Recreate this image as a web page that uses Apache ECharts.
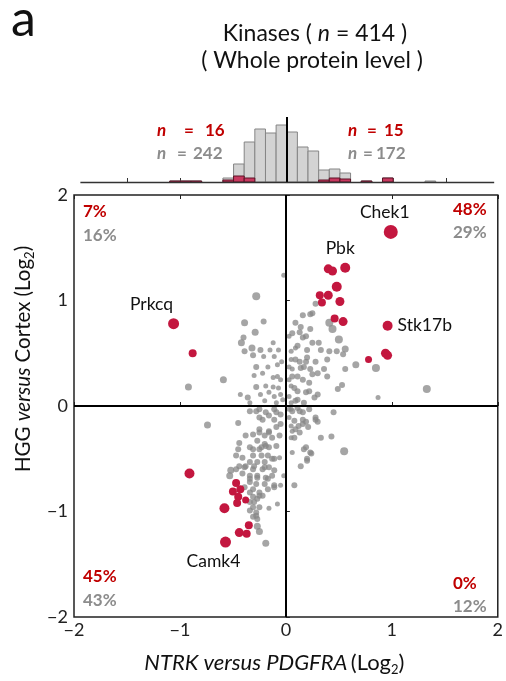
<!DOCTYPE html>
<html>
<head>
<meta charset="utf-8">
<script src="https://cdn.jsdelivr.net/npm/echarts@6/dist/echarts.min.js"></script>
<style>
  html, body { margin: 0; padding: 0; background: #fff; }
  #chart { width: 506px; height: 681px; }
</style>
</head>
<body>
<div id="chart"></div>
<script>
// ---- data -------------------------------------------------------------
// Kinases with significant change: [log2 NTRK/PDGFRA, log2 HGG/Cortex, marker size]
const redPoints = [
  [0.99, 1.65, 14], [0.40, 1.30, 9], [0.44, 1.28, 9], [0.56, 1.31, 10],
  [0.48, 1.13, 10], [0.32, 1.05, 8], [0.40, 1.05, 9], [0.34, 0.98, 8],
  [0.51, 0.99, 9], [0.46, 0.83, 8], [0.54, 0.80, 9], [0.96, 0.76, 10],
  [0.94, 0.50, 9], [0.96, 0.48, 9], [0.78, 0.44, 7],
  [-1.06, 0.78, 11], [-0.88, 0.50, 8],
  [-0.91, -0.64, 10], [-0.47, -0.73, 8], [-0.50, -0.81, 8], [-0.43, -0.79, 8],
  [-0.45, -0.86, 8], [-0.38, -0.89, 7], [-0.46, -0.92, 8], [-0.58, -0.97, 10],
  [-0.35, -1.13, 8], [-0.44, -1.20, 9], [-0.37, -1.21, 8], [-0.57, -1.29, 11]
];
const redNames = [
  'Chek1', '', '', 'Pbk', '', '', '', '', '', '', '', 'Stk17b', '', '', '',
  'Prkcq', '', '', '', '', '', '', '', '', '', '', '', '', 'Camk4'
];

// All other kinases: [x, y, marker size]
const grayPoints = [
  // upper left
  [-0.28, 1.04, 7], [-0.39, 0.79, 6], [-0.21, 0.80, 5], [-0.29, 0.70, 6], [-0.42, 0.60, 6],
  [-0.40, 0.65, 5], [-0.32, 0.55, 6], [-0.39, 0.52, 5], [-0.24, 0.53, 5], [-0.12, 0.60, 4],
  [-0.15, 0.53, 4], [-0.07, 0.53, 4], [-0.31, 0.48, 5], [-0.21, 0.47, 4], [-0.11, 0.47, 4],
  [-0.28, 0.37, 5], [-0.17, 0.37, 4], [-0.08, 0.39, 4], [-0.04, 0.42, 4], [-0.59, 0.25, 6],
  [-0.92, 0.18, 6], [-0.30, 0.29, 4], [-0.22, 0.31, 4], [-0.12, 0.27, 4], [-0.08, 0.28, 4],
  [-0.05, 0.25, 4], [-0.28, 0.18, 5], [-0.19, 0.19, 4], [-0.12, 0.18, 4], [-0.07, 0.17, 4],
  [-0.43, 0.11, 4], [-0.36, 0.08, 5], [-0.24, 0.11, 4], [-0.16, 0.13, 4], [-0.11, 0.09, 4],
  [-0.05, 0.11, 4], [-0.34, 0.03, 4], [-0.20, 0.05, 4], [-0.09, 0.03, 4], [-0.03, 0.06, 4],
  [-0.02, 1.24, 4],
  // upper right
  [0.09, 0.79, 5], [0.14, 0.75, 5], [0.06, 0.69, 5], [0.16, 0.65, 5], [0.11, 0.57, 5],
  [0.20, 0.53, 5], [0.05, 0.52, 4], [0.09, 0.44, 5], [0.19, 0.42, 5], [0.03, 0.37, 4],
  [0.14, 0.36, 5], [0.23, 0.35, 5], [0.06, 0.28, 5], [0.16, 0.25, 5], [0.22, 0.22, 5],
  [0.05, 0.19, 4], [0.11, 0.14, 5], [0.19, 0.13, 5], [0.03, 0.09, 4], [0.09, 0.05, 5],
  [0.17, 0.03, 5], [0.25, 0.88, 5], [0.28, 0.97, 5], [0.23, 0.87, 5], [0.16, 0.86, 5],
  [0.41, 0.79, 7], [0.44, 0.73, 7], [0.23, 0.73, 5], [0.13, 0.70, 5], [0.03, 0.66, 4],
  [0.19, 0.66, 5], [0.50, 0.63, 7], [0.25, 0.60, 5], [0.31, 0.60, 5], [0.09, 0.55, 4],
  [0.33, 0.53, 5], [0.41, 0.52, 5], [0.48, 0.52, 5], [0.56, 0.54, 6], [0.54, 0.49, 5],
  [0.39, 0.44, 5], [0.05, 0.44, 4], [0.13, 0.42, 5], [0.20, 0.46, 5], [0.28, 0.42, 5],
  [0.66, 0.39, 6], [0.56, 0.35, 5], [0.85, 0.36, 7], [0.36, 0.35, 5], [0.17, 0.37, 5],
  [0.06, 0.35, 4], [0.25, 0.30, 5], [0.30, 0.31, 5], [0.39, 0.28, 5], [0.11, 0.28, 5],
  [0.03, 0.25, 4], [0.53, 0.20, 5], [0.49, 0.16, 5], [0.08, 0.17, 5], [0.22, 0.14, 5],
  [0.30, 0.11, 5], [0.27, 0.08, 5], [1.33, 0.16, 7], [0.87, 0.08, 4], [0.11, 0.06, 5],
  [0.05, 0.03, 4],
  // lower left
  [-0.28, -0.05, 5], [-0.19, -0.06, 5], [-0.09, -0.06, 5], [-0.34, -0.05, 5], [-0.74, -0.18, 6],
  [-0.45, -0.16, 5], [-0.25, -0.11, 5], [-0.11, -0.13, 5], [-0.05, -0.08, 5], [-0.38, -0.28, 5],
  [-0.31, -0.27, 5], [-0.25, -0.22, 5], [-0.20, -0.28, 5], [-0.16, -0.24, 5], [-0.09, -0.20, 5],
  [-0.05, -0.17, 5], [-0.13, -0.30, 5], [-0.06, -0.28, 5], [-0.44, -0.35, 5], [-0.27, -0.33, 5],
  [-0.20, -0.36, 5], [-0.45, -0.41, 5], [-0.34, -0.39, 5], [-0.23, -0.39, 5], [-0.16, -0.39, 5],
  [-0.09, -0.38, 5], [-0.47, -0.47, 5], [-0.41, -0.49, 5], [-0.31, -0.47, 5], [-0.23, -0.47, 5],
  [-0.17, -0.47, 5], [-0.11, -0.50, 5], [-0.34, -0.53, 5], [-0.27, -0.53, 5], [-0.20, -0.53, 5],
  [-0.44, -0.57, 5], [-0.38, -0.57, 5], [-0.52, -0.61, 6], [-0.47, -0.60, 5], [-0.31, -0.60, 5],
  [-0.22, -0.60, 5], [-0.16, -0.58, 5], [-0.11, -0.61, 5], [-0.53, -0.66, 6], [-0.41, -0.64, 5],
  [-0.34, -0.66, 5], [-0.27, -0.66, 5], [-0.19, -0.68, 5], [-0.13, -0.66, 5], [-0.34, -0.72, 5],
  [-0.28, -0.74, 5], [-0.20, -0.74, 5], [-0.11, -0.75, 5], [-0.05, -0.75, 4], [-0.39, -0.77, 5],
  [-0.31, -0.79, 5], [-0.34, -0.82, 5], [-0.25, -0.82, 5], [-0.17, -0.79, 5], [-0.31, -0.86, 5],
  [-0.27, -0.88, 5], [-0.34, -0.91, 5], [-0.22, -0.85, 5], [-0.08, -0.93, 4], [-0.31, -0.96, 5],
  [-0.25, -0.96, 5], [-0.28, -1.01, 5], [-0.34, -0.99, 5], [-0.27, -1.07, 5], [-0.31, -1.05, 5],
  [-0.16, -0.97, 4], [-0.27, -1.14, 6], [-0.25, -1.19, 6], [-0.19, -1.30, 6], [-0.02, -0.66, 4],
  [-0.25, -0.03, 5], [-0.16, -0.09, 5], [-0.11, -0.03, 5], [-0.22, -0.13, 5], [-0.25, -0.25, 5],
  [-0.16, -0.25, 5], [-0.31, -0.41, 5], [-0.25, -0.41, 5], [-0.19, -0.38, 5], [-0.39, -0.58, 5],
  [-0.30, -0.57, 5], [-0.20, -0.58, 5], [-0.13, -0.50, 5], [-0.06, -0.49, 4], [-0.34, -0.69, 5],
  [-0.27, -0.68, 5], [-0.17, -0.69, 5], [-0.11, -0.77, 5], [-0.25, -0.85, 5], [-0.30, -0.91, 5],
  [-0.28, -1.04, 5],
  // lower right
  [0.06, -0.05, 5], [0.16, -0.06, 5], [0.08, -0.75, 5], [0.19, -0.39, 5], [0.14, -0.57, 5],
  [0.06, -0.44, 4], [0.23, -0.44, 5], [0.20, -0.50, 5], [0.05, -0.30, 4], [0.09, -0.22, 5],
  [0.16, -0.17, 5], [0.03, -0.11, 4], [0.22, -0.03, 5], [0.45, -0.06, 5], [0.28, -0.13, 5],
  [0.30, -0.15, 5], [0.16, -0.13, 5], [0.19, -0.15, 5], [0.08, -0.14, 5], [0.05, -0.19, 4],
  [0.21, -0.20, 5], [0.13, -0.25, 5], [0.08, -0.30, 5], [0.33, -0.30, 5], [0.43, -0.29, 5],
  [0.55, -0.43, 7], [0.17, -0.41, 5], [0.24, -0.45, 5], [0.20, -0.52, 5], [0.03, -0.03, 4],
  [0.11, -0.02, 5], [0.28, -0.11, 5], [0.13, -0.05, 5], [0.06, -0.24, 4], [0.12, -0.19, 5],
  [0.05, -0.03, 4]
];

// Histogram of log2 NTRK/PDGFRA (bin start, counts)
const binWidth = 0.1;
const binStart = [-1.1, -1.0, -0.9, -0.6, -0.5, -0.4, -0.3, -0.2, -0.1, 0.0, 0.1, 0.2, 0.3, 0.4, 0.5, 0.7, 0.9, 1.3];
const binAll   = [1, 1, 1, 4, 18, 40, 53, 49, 57, 50, 35, 31, 12, 13, 9, 1, 4, 1];
const binSig   = [1, 1, 1, 2, 6, 4, 0, 0, 0, 0, 0, 0, 2, 4, 3, 1, 4, 0];

// Counts and quadrant shares
const nSigLeft = 16, nSigRight = 15, nAllLeft = 242, nAllRight = 172;
const quadSig = { ul: '7%', ur: '48%', ll: '45%', lr: '0%' };
const quadAll = { ul: '16%', ur: '29%', ll: '43%', lr: '12%' };

// ---- styling ----------------------------------------------------------
const FONT = 'Lato, "Open Sans", sans-serif';
const RED = '#c3173f';
const RED_TXT = '#c00000';
const GRAY_TXT = '#8c8c8c';
const fmt = v => (v < 0 ? '\u2212' : '') + Math.abs(v);

const labelPlacement = {
  Chek1:  { position: 'top', offset: [-6, 1] },
  Pbk:    { position: 'top', offset: [-5, 0] },
  Stk17b: { position: 'right', distance: 5 },
  Prkcq:  { position: 'top', offset: [-22, 0] },
  Camk4:  { position: 'bottom', offset: [-12, 0] }
};

const redData = redPoints.map((p, i) => {
  const item = { value: p, name: redNames[i] };
  if (redNames[i]) {
    item.label = Object.assign({ show: true, formatter: '{b}' }, labelPlacement[redNames[i]]);
  }
  return item;
});

function histBar(fill, stroke) {
  return function (params, api) {
    const x0 = api.value(0), h = api.value(1);
    if (!h) return null;
    const p0 = api.coord([x0, 0]);
    const p1 = api.coord([x0 + binWidth, h]);
    return {
      type: 'rect',
      shape: { x: p0[0], y: p1[1], width: p1[0] - p0[0], height: p0[1] - p1[1] },
      style: { fill: fill, stroke: stroke, lineWidth: 1 }
    };
  };
}

const richName = (size) => ({
  n: { fontSize: size, fontFamily: FONT, color: '#111', lineHeight: 26 },
  i: { fontSize: size, fontFamily: FONT, color: '#111', fontStyle: 'italic', lineHeight: 26 },
  s: { fontSize: 13, fontFamily: FONT, color: '#111', lineHeight: 14, verticalAlign: 'bottom' }
});

const chart = echarts.init(document.getElementById('chart'), null, { renderer: 'canvas' });

const baseText = (x, y, text, font, color, align) => ({
  type: 'text', x: x, y: y,
  style: { text: text, fill: color, font: font, align: align, textAlign: align,
           verticalAlign: 'middle', textVerticalAlign: 'middle' }
});
const quadText = (x, y, text, color) => baseText(x, y, text, 'bold 17px ' + FONT, color, 'left');

// "n = value" placed as three pieces: italic n, equals sign, number
const countText = (xs, y, num, color) => [
  baseText(xs[0], y, 'n', 'italic bold 17px ' + FONT, color, 'left'),
  baseText(xs[1], y, '=', 'bold 17px ' + FONT, color, 'left'),
  baseText(xs[2], y, String(num), 'bold 17px ' + FONT, color, 'left')
];

chart.setOption({
  animation: false,
  backgroundColor: '#fff',
  grid: [
    { left: 74, top: 195, width: 425.5, height: 424.3, show: true, borderColor: '#222', borderWidth: 1.5 },
    { left: 74, top: 117, width: 425.5, height: 65 }
  ],
  xAxis: [
    {
      gridIndex: 0, type: 'value', min: -2, max: 2, interval: 1,
      axisLine: { show: false },
      axisTick: { show: true, inside: true, length: 4, lineStyle: { color: '#222', width: 1 } },
      axisLabel: { formatter: fmt, fontSize: 18, color: '#222', fontFamily: FONT, margin: 4 },
      splitLine: { show: false },
      name: '{i|NTRK versus PDGFRA} {n|(Log}{s|2}{n|)}',
      nameLocation: 'middle', nameGap: 33,
      nameTextStyle: { rich: richName(22), padding: [0, 23, 0, 0] }
    },
    {
      gridIndex: 0, type: 'value', min: -2, max: 2, interval: 1, position: 'top',
      axisLine: { show: false },
      axisTick: { show: true, inside: true, length: 4, lineStyle: { color: '#222', width: 1 } },
      axisLabel: { show: false }, splitLine: { show: false }
    },
    {
      gridIndex: 1, type: 'value', min: -2, max: 2,
      axisLine: { show: false },
      axisTick: { show: true, inside: true, length: 4, lineStyle: { color: '#333', width: 1 },
                  customValues: [-1.5, -1, -0.5, 0.5, 1, 1.5] },
      axisLabel: { show: false }, splitLine: { show: false }
    }
  ],
  yAxis: [
    {
      gridIndex: 0, type: 'value', min: -2, max: 2, interval: 1,
      axisLine: { show: false },
      axisTick: { show: true, inside: true, length: 4, lineStyle: { color: '#222', width: 1 } },
      axisLabel: { formatter: fmt, fontSize: 18, color: '#222', fontFamily: FONT, margin: 6 },
      splitLine: { show: false },
      name: '{n|HGG }{i|versus}{n| Cortex (Log}{s|2}{n|)}',
      nameLocation: 'middle', nameGap: 37,
      nameTextStyle: { rich: richName(20.5), padding: [0, 0, 0, 94] }
    },
    {
      gridIndex: 1, type: 'value', min: 0, max: 65, show: false
    }
  ],
  series: [
    {
      type: 'custom', xAxisIndex: 2, yAxisIndex: 1,
      renderItem: histBar('#d3d3d3', '#858585'),
      encode: { x: 0, y: 1 },
      data: binStart.map((s, i) => [s, binAll[i]]),
      z: 2
    },
    {
      type: 'custom', xAxisIndex: 2, yAxisIndex: 1,
      renderItem: histBar('#c8385f', '#5c1326'),
      encode: { x: 0, y: 1 },
      data: binStart.map((s, i) => [s, binSig[i]]),
      z: 3
    },
    {
      type: 'scatter', xAxisIndex: 2, yAxisIndex: 1,
      data: [[0, 0]], symbolSize: 0, silent: true, z: 4,
      markLine: {
        silent: true, symbol: 'none', label: { show: false }, animation: false,
        lineStyle: { type: 'solid' },
        data: [
          [{ coord: [0, 0], lineStyle: { color: '#000', width: 2, type: 'solid' } }, { coord: [0, 65] }],
          [{ coord: [-1.94, 0], lineStyle: { color: '#333', width: 1.3, type: 'solid' } }, { coord: [1.95, 0] }]
        ]
      }
    },
    {
      type: 'scatter', xAxisIndex: 0, yAxisIndex: 0,
      data: grayPoints,
      symbolSize: v => v[2] + 1,
      itemStyle: { color: '#878787', opacity: 0.75 },
      z: 2,
      markLine: {
        silent: true, symbol: 'none', label: { show: false }, animation: false,
        lineStyle: { color: '#000', width: 2, type: 'solid' },
        data: [{ xAxis: 0 }, { yAxis: 0 }]
      }
    },
    {
      type: 'scatter', xAxisIndex: 0, yAxisIndex: 0,
      data: redData,
      symbolSize: v => v[2],
      itemStyle: { color: RED, opacity: 1 },
      label: { show: false, fontSize: 17.5, color: '#111', fontFamily: FONT },
      z: 4
    }
  ],
  graphic: [
    baseText(11, 20, 'a', '50px ' + FONT, '#111', 'left'),
    { type: 'text', x: 315, y: 34,
      style: { text: '{n|Kinases ( }{i|n}{n| = 414 )}', align: 'center', textAlign: 'center',
               verticalAlign: 'middle', textVerticalAlign: 'middle',
               rich: { n: { font: '23px ' + FONT, fill: '#111' }, i: { font: 'italic 23px ' + FONT, fill: '#111' } } } },
    baseText(312, 61, '( Whole protein level )', '23px ' + FONT, '#111', 'center'),
    ...countText([157, 184, 205], 131, nSigLeft, RED_TXT),
    ...countText([157, 177, 193], 154, nAllLeft, GRAY_TXT),
    ...countText([348, 367, 384], 131, nSigRight, RED_TXT),
    ...countText([348, 363, 376], 154, nAllRight, GRAY_TXT),
    quadText(83, 212, quadSig.ul, RED_TXT),
    quadText(83, 236, quadAll.ul, GRAY_TXT),
    quadText(453, 210, quadSig.ur, RED_TXT),
    quadText(453, 233, quadAll.ur, GRAY_TXT),
    quadText(83, 577, quadSig.ll, RED_TXT),
    quadText(83, 601, quadAll.ll, GRAY_TXT),
    quadText(453, 584, quadSig.lr, RED_TXT),
    quadText(453, 607, quadAll.lr, GRAY_TXT)
  ]
});
</script>
</body>
</html>
